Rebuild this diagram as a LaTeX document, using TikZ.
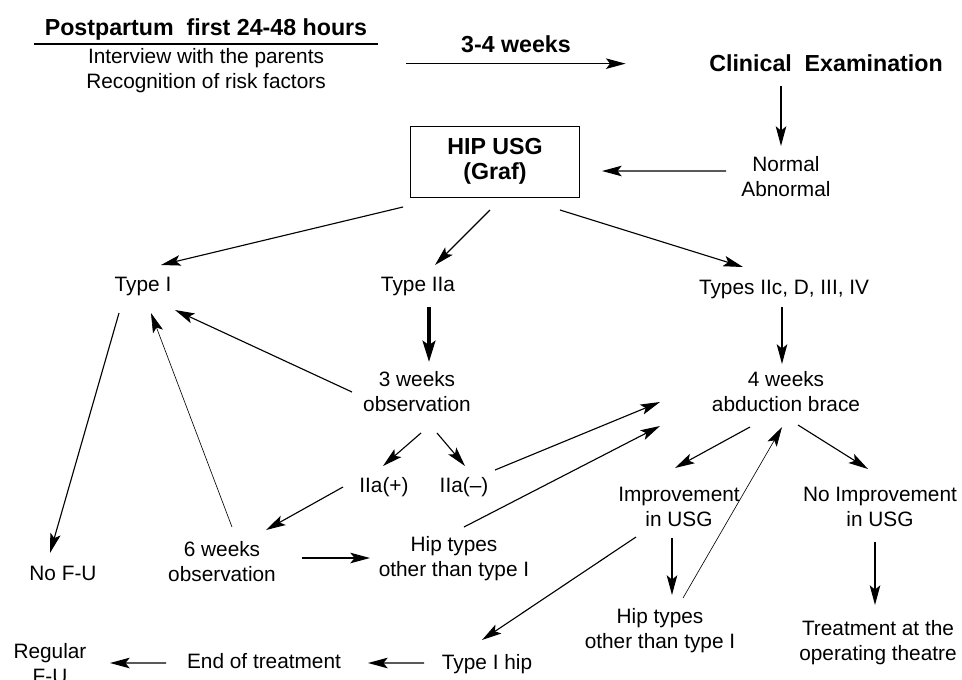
\documentclass[tikz,border=0pt]{standalone}
\usepackage{fontspec}
\setmainfont{Liberation Sans}
\usetikzlibrary{arrows.meta,calc}

\begin{document}
\begin{tikzpicture}
[
	              x = 0.025cm,
	              y = -0.025cm,
	           ->, >= {Stealth[length=14pt,width=7.5pt,inset=3pt]},
	     line width = 0.8pt,
	      txt/.style = { align=center, inner sep=2pt, font=\fontsize{14.8}{17.8}\selectfont },
	      hdr/.style = { inner sep=2pt, font=\fontsize{16.5}{20}\selectfont\bfseries },
	   usgbox/.style = { draw, line width=0.7pt, align=center, minimum width=4.2cm, minimum height=1.775cm,
	                     font=\fontsize{16.5}{17.8}\selectfont\bfseries },
	  thinarr/.style = { line width=0.45pt },
	 thickarr/.style = { line width=2.8pt, >={Stealth[length=15pt,width=9pt,inset=3pt]} }
]
	\useasboundingbox (0,0) rectangle (962,679);
	\clip (0,0) rectangle (962,679);

	% header
	% nodes
	\node (Post)   at (206,29)    [hdr, minimum width=8.575cm, inner ysep=2.9pt] {Postpartum\ \ first 24-48 hours};
	\node (Interv) at (206,71)    [txt] {Interview with the parents\\Recognition of risk factors};
	\node (Weeks)  at (516,44.7)  [hdr, minimum width=5.45cm, inner ysep=7pt] {3-4 weeks};
	\node (Clin)   at (826,63.7)  [hdr] {Clinical\ \ Examination};
	\node (Normal) at (786,177)   [txt] {Normal\\Abnormal};
	\node (HIP)    at (495,161.5) [usgbox] {HIP USG\\(Graf)};

	% edges
	\draw [-, line width=1.4pt] (Post.south west) -- (Post.south east);
	\draw (Weeks.south west) -- (Weeks.south east);
	\draw ($(Clin)+(-45,22.3)$) -- ($(Normal)+(-5,-31)$);
	\draw ($(Normal)+(-60,-6)$) -- ($(HIP)+(107,9.5)$);

	% first level
	% nodes
	\node (TypeI)   at (143,286.7) [txt] {Type I};
	\node (TypeIIa) at (418,286.7) [txt] {Type IIa};
	\node (TypeIIc) at (784,289.7) [txt] {Types IIc, D, III, IV};
	\node (ThreeWk) at (417,391.5) [txt] {3 weeks\\observation};
	\node (FourWk)  at (786,391.5) [txt] {4 weeks\\abduction brace};

	% edges
	\draw ($(HIP)+(-92,45.5)$) -- ($(TypeI)+(18,-21.7)$);
	\draw ($(HIP)+(-5,48.5)$)  -- ($(TypeIIa)+(17,-21.7)$);
	\draw ($(HIP)+(65,48.5)$)  -- ($(TypeIIc)+(-41,-22.7)$);
	\draw [thickarr] ($(TypeIIa)+(11,20.3)$) -- ($(ThreeWk)+(12,-29.5)$);
	\draw ($(TypeIIc)+(-2,17.3)$) -- ($(FourWk)+(-4,-27.5)$);
	\draw ($(ThreeWk)+(-65,0.5)$) -- ($(TypeI)+(32,23.3)$);

	% observation branch
	% nodes
	\node (IIaP)  at (384,486.7) [txt] {IIa(+)};
	\node (IIaM)  at (464,486.7) [txt] {IIa(--)};
	\node (NoFU)  at (63,573.4)  [txt] {No F-U};
	\node (SixWk) at (222,562)   [txt] {6 weeks\\observation};
	\node (HipL)  at (454,559)   [txt] {Hip types\\other than type I};

	% edges
	\draw ($(TypeI)+(-24,26.3)$)  -- ($(NoFU)+(-13,-20.4)$);
	\draw [thinarr] ($(SixWk)+(10,-35)$) -- ($(TypeI)+(8,26.3)$);
	\draw ($(ThreeWk)+(4,41.5)$)  -- ($(IIaP)+(-1,-20.7)$);
	\draw ($(ThreeWk)+(20,41.5)$) -- ($(IIaM)+(1,-20.7)$);
	\draw ($(IIaP)+(-41,0.3)$)    -- ($(SixWk)+(44,-32)$);
	\draw ($(SixWk)+(80,-4)$)     -- ($(HipL)+(-84,-1)$);
	\draw ($(IIaM)+(31,-16.7)$)   -- ($(FourWk)+(-126,10.5)$);
	\draw ($(HipL)+(10,-32)$)     -- ($(FourWk)+(-126,34.5)$);

	% brace branch
	% nodes
	\node (Impr)     at (679,507)   [txt] {Improvement\\in USG};
	\node (NoImpr)   at (880,507)   [txt] {No Improvement\\in USG};
	\node (HipR)     at (660,631)   [txt] {Hip types\\other than type I};
	\node (Treat)    at (878,643)   [txt] {Treatment at the\\operating theatre};
	\node (TypeIhip) at (487,663.7) [txt] {Type I hip};
	\node (EndTr)    at (264,661.4) [txt] {End of treatment};
	\node (Regular)  at (50,663.5)  [txt] {Regular\\F-U};

	% edges
	\draw ($(FourWk)+(-36,35.5)$) -- ($(Impr)+(-4,-39)$);
	\draw ($(FourWk)+(12,33.5)$)  -- ($(NoImpr)+(-12,-38)$);
	\draw [thinarr] ($(HipR)+(23,-33)$) -- ($(FourWk)+(-4,35.5)$);
	\draw ($(Impr)+(-7,31)$)      -- ($(HipR)+(12,-36)$);
	\draw ($(NoImpr)+(-5,35)$)    -- ($(Treat)+(-3,-38)$);
	\draw ($(Impr)+(-43,30)$)     -- ($(TypeIhip)+(-5,-23.7)$);
	\draw ($(TypeIhip)+(-63,-0.7)$) -- ($(EndTr)+(104,1.6)$);
	\draw ($(EndTr)+(-98,1.6)$)   -- ($(Regular)+(60,-0.5)$);
\end{tikzpicture}
\end{document}
